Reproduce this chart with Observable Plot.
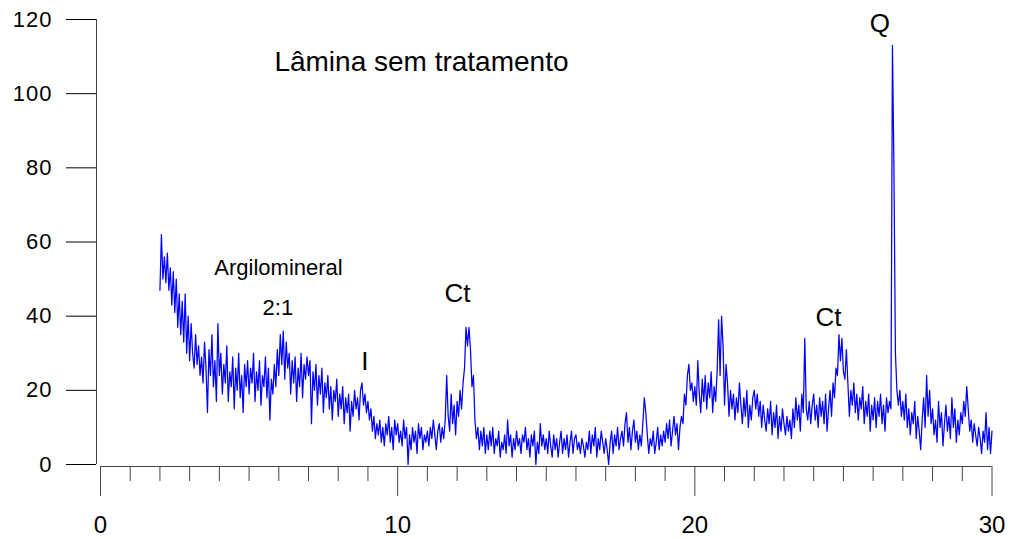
<!DOCTYPE html>
<html>
<head>
<meta charset="utf-8">
<script src="https://cdn.jsdelivr.net/npm/d3@7"></script>
<script src="https://cdn.jsdelivr.net/npm/@observablehq/plot@0.6"></script>
<style>
  html, body { margin: 0; padding: 0; background: #fff; }
  #chart svg { display: block; }
  .xrd g[aria-label="y-axis tick label"] text { letter-spacing: 1px; }
</style>
</head>
<body>
<div id="chart"></div>
<script>
// Diffractogram of the untreated slide: counts sampled every 0.05 °2θ from 2 to 30
const twoThetaStart = 2.0;
const twoThetaStep = 0.05;

const counts02to06 = [
  47, 62, 50, 56, 49, 57, 47, 53, 43, 52, 41, 50, 37, 46, 35, 44, 33, 46, 30, 40,
  28, 38, 30, 26, 35, 27, 32, 24, 29, 22, 33, 26, 14, 31, 24, 35, 21, 28, 17, 38,
  24, 30, 19, 27, 22, 32, 17, 25, 21, 29, 15, 26, 20, 30, 18, 24, 14, 27, 21, 28,
  19, 26, 22, 30, 17, 25, 20, 28, 16, 24, 21, 29, 18, 26, 12, 23, 19, 27, 21, 31
];
const counts06to10 = [
  24, 35, 27, 36, 23, 33, 26, 30, 19, 28, 22, 29, 17, 26, 21, 30, 18, 27, 23, 29,
  24, 28, 11, 25, 20, 27, 16, 24, 19, 26, 14, 22, 18, 24, 15, 21, 12, 20, 17, 23,
  13, 19, 15, 21, 11, 18, 14, 19, 9, 17, 13, 20, 15, 18, 12, 20, 22, 16, 19, 14,
  17, 12, 15, 9, 13, 7, 11, 8, 12, 6, 10, 5, 11, 8, 13, 6, 10, 4, 12, 8
];
const counts10to14 = [
  11, 6, 9, 5, 12, 7, 10, 0, 8, 4, 10, 6, 9, 3, 11, 7, 10, 4, 8, 6,
  9, 5, 10, 7, 12, 8, 4, 9, 11, 6, 10, 7, 12, 24, 13, 9, 19, 11, 16, 8,
  17, 13, 20, 15, 22, 26, 37, 32, 37, 31, 21, 24, 12, 7, 10, 4, 9, 5, 10, 3,
  8, 4, 9, 5, 10, 3, 7, 5, 9, 2, 6, 4, 8, 3, 12, 5, 8, 2, 7, 4
];
const counts14to18 = [
  9, 5, 7, 3, 8, 6, 10, 4, 7, 2, 8, 5, 9, 0, 6, 3, 11, 5, 8, 4,
  7, 3, 9, 5, 2, 8, 4, 7, 2, 6, 9, 3, 7, 4, 8, 2, 6, 9, 3, 7,
  8, 4, 6, 3, 7, 5, 2, 6, 4, 9, 3, 8, 5, 10, 2, 7, 4, 9, 6, 3,
  7, 4, 0, 6, 9, 3, 8, 5, 10, 4, 7, 9, 5, 11, 14, 6, 10, 4, 9, 12
];
const counts18to22 = [
  6, 9, 4, 8, 5, 11, 18, 14, 8, 3, 7, 5, 9, 3, 6, 10, 4, 8, 5, 9,
  6, 11, 7, 12, 5, 9, 13, 8, 11, 4, 10, 13, 11, 19, 16, 24, 27, 20, 22, 17,
  21, 16, 28, 19, 14, 23, 17, 24, 15, 22, 18, 25, 14, 21, 17, 25, 39, 24, 40, 32,
  16, 27, 22, 13, 20, 15, 19, 12, 18, 14, 22, 16, 11, 18, 13, 20, 10, 16, 12, 18
];
const counts22to26 = [
  20, 15, 19, 13, 17, 10, 16, 12, 9, 15, 11, 17, 8, 14, 10, 16, 7, 13, 9, 15,
  11, 8, 13, 9, 12, 7, 15, 10, 18, 12, 16, 9, 19, 14, 34, 15, 12, 17, 11, 16,
  19, 12, 16, 10, 18, 13, 17, 11, 19, 9, 15, 20, 13, 22, 18, 26, 24, 35, 28, 34,
  25, 23, 31, 22, 13, 20, 16, 22, 14, 19, 12, 18, 15, 21, 11, 17, 13, 19, 9, 16
];
const counts26to30 = [
  12, 18, 10, 17, 13, 19, 11, 16, 9, 18, 14, 17, 15, 113, 80, 30, 20, 16, 20, 13,
  17, 12, 19, 10, 15, 8, 14, 11, 17, 7, 13, 9, 4, 12, 18, 10, 24, 13, 20, 11,
  15, 8, 12, 6, 17, 10, 14, 5, 11, 16, 9, 13, 7, 18, 10, 15, 6, 12, 8, 14,
  11, 17, 13, 21, 15, 9, 12, 6, 11, 8, 5, 10, 7, 3, 9, 6, 14, 4, 10, 3,
  9
];

// Axis ticks
const xMajorTicks = [0, 10, 20, 30];
const xMinorTicks = [1, 2, 3, 4, 5, 6, 7, 8, 9, 11, 12, 13, 14, 15, 16, 17, 18, 19,
                     21, 22, 23, 24, 25, 26, 27, 28, 29];
const yTicks = [0, 20, 40, 60, 80, 100, 120];

// Annotations (placed in °2θ / counts units)
const titleText = "Lâmina sem tratamento";
const titleAt = [10.80, 108.4];
const phaseLabels = ["Ct", "I", "Ct", "Q"];
const phaseLabelX = [12.01, 8.90, 24.50, 26.23];
const phaseLabelY = [46.0, 27.8, 39.6, 118.9];
const clayLabels = ["Argilomineral", "2:1"];
const clayLabelX = [5.99, 5.97];
const clayLabelY = [53.0, 42.3];

const counts = [
  ...counts02to06, ...counts06to10, ...counts10to14, ...counts14to18,
  ...counts18to22, ...counts22to26, ...counts26to30
];
const pattern = counts.map((c, i) => ({
  twoTheta: +(twoThetaStart + i * twoThetaStep).toFixed(2),
  counts: c
}));

const fontFamily = "'Liberation Sans', Arial, Helvetica, sans-serif";

const chart = Plot.plot({
  width: 1010,
  height: 539,
  marginLeft: 100,
  marginRight: 18.5,
  marginTop: 19,
  marginBottom: 75,
  className: "xrd",
  style: { fontFamily, color: "#000", background: "#fff", overflow: "visible" },
  x: { domain: [0, 30], label: null },
  y: { domain: [0, 120], label: null },
  marks: [
    // vertical axis line, set slightly left of the plotting area
    Plot.ruleX([0], { dx: -4, stroke: "#444", strokeWidth: 1 }),
    Plot.axisY({
      ticks: yTicks, tickSize: 30, tickPadding: 14, dx: -4,
      fontSize: 22, label: null, stroke: "#000"
    }),
    // horizontal axis line, set slightly below the zero line
    Plot.ruleY([0], { x1: 0, x2: 30, dy: 2, stroke: "#444", strokeWidth: 1 }),
    Plot.axisX({
      ticks: xMajorTicks, tickSize: 30, tickPadding: 19, dy: 2,
      fontSize: 24, label: null, stroke: "#444"
    }),
    Plot.axisX({
      ticks: xMinorTicks, tickSize: 15, dy: 2, tickFormat: () => "",
      label: null, stroke: "#444"
    }),
    // diffraction trace
    Plot.line(pattern, {
      x: "twoTheta", y: "counts",
      stroke: "#0000ff", strokeWidth: 1.25, strokeLinejoin: "round"
    }),
    // labels
    Plot.text([titleText], {
      x: () => titleAt[0], y: () => titleAt[1], text: d => d,
      fontSize: 28, fill: "#000"
    }),
    Plot.text(phaseLabels, {
      x: (d, i) => phaseLabelX[i], y: (d, i) => phaseLabelY[i], text: d => d,
      fontSize: 26, fill: "#000"
    }),
    Plot.text(clayLabels, {
      x: (d, i) => clayLabelX[i], y: (d, i) => clayLabelY[i], text: d => d,
      fontSize: 22, fill: "#000"
    })
  ]
});

document.getElementById("chart").appendChild(chart);
</script>
</body>
</html>
